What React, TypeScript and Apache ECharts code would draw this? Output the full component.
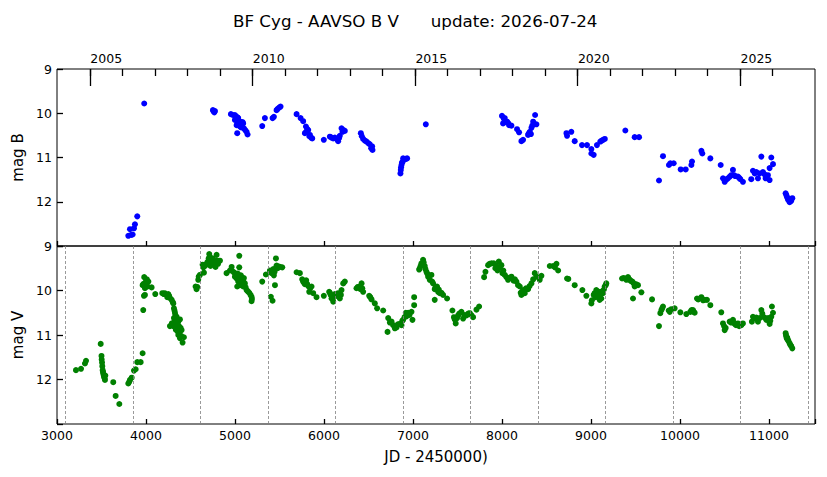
import React, { useEffect, useRef } from "react";
import * as echarts from "echarts";

// BF Cyg photometry (JD - 2450000, magnitude)
const magB: [number, number][] = [
  [3801, 12.77], [3820, 12.62], [3834, 12.75], [3850, 12.74], [3865, 12.6], [3876, 12.51], [3902, 12.33],
  [3980, 9.78],
  [4752, 9.93], [4760, 9.96], [4768, 9.98], [4775, 9.95],
  [4954, 10.02], [4975, 10.04], [4999, 10.04], [5010, 10.07], [5018, 10.08], [5030, 10.1], [5036, 10.11],
  [4999, 10.15], [5012, 10.13], [5055, 10.19], [5045, 10.17], [5018, 10.27], [5030, 10.22], [5060, 10.24],
  [5074, 10.27], [5092, 10.23], [5085, 10.2], [5100, 10.34], [5070, 10.32], [5055, 10.3], [5115, 10.38],
  [5130, 10.42], [5141, 10.48], [5025, 10.45], [5040, 10.2],
  [5306, 10.29],
  [5336, 10.11], [5422, 10.11], [5437, 10.08],
  [5467, 9.93], [5480, 9.9], [5497, 9.87], [5512, 9.85],
  [5692, 10.02], [5737, 10.11], [5766, 10.18], [5797, 10.3], [5810, 10.35], [5823, 10.38], [5785, 10.45],
  [5800, 10.42], [5835, 10.52], [5842, 10.49], [5855, 10.55], [5868, 10.57],
  [5998, 10.6],
  [6066, 10.53], [6085, 10.55], [6103, 10.57], [6122, 10.55], [6141, 10.58], [6159, 10.63], [6170, 10.56],
  [6178, 10.51], [6197, 10.34], [6208, 10.42], [6220, 10.38], [6234, 10.4],
  [6414, 10.45], [6425, 10.52], [6440, 10.58], [6460, 10.62], [6478, 10.64], [6500, 10.68], [6515, 10.7],
  [6530, 10.79], [6541, 10.75], [6545, 10.83],
  [6859, 11.36], [6863, 11.28], [6866, 11.22], [6871, 11.17], [6876, 11.12], [6882, 11.1], [6889, 11.02],
  [6900, 11.05], [6908, 11.04], [6920, 11.03], [6934, 11.02],
  [7144, 10.25],
  [8000, 10.06], [8012, 10.23], [8020, 10.12], [8031, 10.11], [8045, 10.2], [8057, 10.19], [8070, 10.22],
  [8080, 10.27], [8106, 10.28], [8169, 10.36], [8192, 10.43], [8218, 10.63], [8237, 10.6], [8293, 10.49],
  [8300, 10.46], [8312, 10.42], [8325, 10.47], [8331, 10.33], [8340, 10.28], [8350, 10.19], [8372, 10.04],
  [8387, 10.25],
  [8724, 10.45], [8731, 10.51], [8779, 10.42], [8817, 10.63], [8899, 10.72], [8955, 10.72], [9004, 10.81],
  [9004, 10.91], [9030, 10.94], [9067, 10.72], [9105, 10.64], [9120, 10.62], [9135, 10.6], [9155, 10.58],
  [9386, 10.39], [9491, 10.54], [9540, 10.54],
  [9764, 11.52], [9809, 10.97], [9876, 11.17], [9891, 11.13], [9929, 11.13], [10008, 11.27], [10064, 11.27],
  [10128, 11.17], [10135, 11.09],
  [10240, 10.85], [10251, 10.91], [10341, 11.02],
  [10457, 11.17], [10483, 11.47], [10502, 11.55], [10520, 11.5], [10539, 11.47], [10560, 11.43], [10577, 11.4],
  [10595, 11.28], [10606, 11.4], [10620, 11.42], [10651, 11.43], [10665, 11.46], [10678, 11.49], [10707, 11.55],
  [10801, 11.49], [10820, 11.3], [10840, 11.36], [10858, 11.33], [10876, 11.47], [10895, 11.36], [10914, 10.98],
  [10932, 11.33], [10950, 11.38], [10962, 11.47], [10988, 11.4], [11007, 11.24], [11007, 11.51], [11026, 11.0],
  [11045, 11.15],
  [11187, 11.81], [11195, 11.85], [11202, 11.89], [11213, 11.95], [11224, 11.94], [11232, 12.01], [11240, 11.97],
  [11250, 11.98], [11262, 11.92],
];

const magV: [number, number][] = [
  [3213, 11.79], [3270, 11.76], [3314, 11.64], [3326, 11.58],
  [3491, 11.2], [3500, 11.47], [3502, 11.55], [3506, 11.62], [3509, 11.7], [3513, 11.79], [3517, 11.83],
  [3520, 11.86], [3524, 11.9], [3528, 11.94], [3535, 11.97], [3539, 12.01], [3543, 11.91],
  [3632, 12.06], [3659, 12.37], [3700, 12.55],
  [3801, 12.09], [3812, 12.05], [3820, 12.01], [3839, 11.96], [3865, 11.8], [3884, 11.77], [3902, 11.61],
  [3940, 11.61], [3962, 11.41],
  [3969, 10.44], [3977, 10.12], [3988, 10.1], [3962, 9.88], [3972, 9.85], [3980, 9.7], [3999, 9.8],
  [3988, 9.95], [3995, 9.9], [4005, 9.84], [4018, 9.91], [4027, 9.8], [4063, 9.93], [4010, 9.75],
  [4104, 10.08], [4183, 10.06], [4200, 10.08], [4210, 10.06], [4239, 10.15], [4250, 10.08], [4260, 10.12],
  [4275, 10.18], [4288, 10.21], [4300, 10.26], [4307, 10.29], [4314, 10.4], [4320, 10.45], [4325, 10.5],
  [4314, 10.62], [4330, 10.55], [4344, 10.59], [4269, 10.8], [4290, 10.74], [4307, 10.8], [4320, 10.7],
  [4333, 10.73], [4340, 10.64], [4350, 10.75], [4363, 10.7], [4370, 10.8], [4381, 10.65], [4389, 10.84],
  [4400, 10.89], [4363, 11.0], [4370, 10.98], [4381, 11.07], [4395, 11.02], [4411, 11.17], [4426, 11.05],
  [4344, 10.85], [4325, 10.67], [4355, 10.92], [4335, 10.88],
  [4557, 9.91], [4568, 9.97], [4575, 9.92], [4587, 9.76], [4592, 9.69], [4606, 9.65], [4651, 9.6],
  [4662, 9.45], [4636, 9.42], [4645, 9.48], [4681, 9.4], [4690, 9.36], [4704, 9.28], [4711, 9.18],
  [4720, 9.25], [4737, 9.37], [4745, 9.3], [4752, 9.28], [4760, 9.38], [4775, 9.43], [4781, 9.47],
  [4793, 9.2], [4800, 9.33], [4810, 9.4], [4831, 9.33], [4700, 9.4], [4725, 9.45],
  [4905, 9.61], [4943, 9.55], [4962, 9.47], [4981, 9.58], [4999, 9.61], [4999, 9.69], [5010, 9.65],
  [5018, 9.73], [5025, 9.91], [5030, 9.62], [5036, 9.8], [5040, 9.7], [5048, 9.22], [5048, 9.48],
  [5055, 9.88], [5060, 9.75], [5066, 9.66], [5074, 9.7], [5080, 9.82], [5092, 9.78], [5092, 9.91],
  [5100, 9.72], [5111, 9.84], [5120, 9.93], [5130, 9.99], [5145, 10.02], [5160, 10.05], [5175, 10.1],
  [5186, 10.14], [5186, 10.24], [5190, 10.19],
  [5306, 9.8], [5347, 9.64], [5392, 9.55], [5403, 10.14], [5422, 10.23], [5411, 9.61], [5430, 9.52],
  [5437, 9.66], [5449, 9.88], [5445, 9.58], [5460, 9.28], [5467, 9.44], [5480, 9.5], [5490, 9.46],
  [5505, 9.47], [5531, 9.48],
  [5692, 9.59], [5729, 9.61], [5755, 9.75], [5765, 9.8], [5774, 9.82], [5785, 9.86], [5800, 9.77],
  [5810, 9.85], [5823, 9.9], [5834, 10.03], [5845, 9.95], [5860, 9.91], [5879, 10.06], [5916, 10.15],
  [5998, 10.12], [6058, 10.03], [6066, 10.05], [6075, 10.1], [6085, 10.18], [6095, 10.12], [6103, 10.25],
  [6110, 10.15], [6122, 10.08], [6140, 10.12], [6159, 10.06], [6178, 10.18], [6190, 10.1], [6197, 9.99],
  [6216, 9.84], [6234, 9.8],
  [6365, 9.95], [6380, 9.92], [6403, 9.91], [6410, 9.97], [6422, 9.84], [6430, 9.95], [6440, 10.03],
  [6508, 10.12], [6520, 10.15], [6534, 10.2], [6571, 10.29], [6597, 10.4],
  [6665, 10.45], [6714, 10.93], [6721, 10.62], [6740, 10.72], [6759, 10.7], [6777, 10.78], [6796, 10.85],
  [6815, 10.83], [6830, 10.76], [6852, 10.75], [6871, 10.78], [6880, 10.68], [6889, 10.66], [6905, 10.6],
  [6919, 10.5], [6927, 10.58], [6946, 10.5], [6960, 10.55], [6983, 10.48], [6994, 10.66], [7013, 10.33],
  [7013, 10.15],
  [7069, 9.53], [7076, 9.5], [7085, 9.45], [7095, 9.39], [7113, 9.31], [7120, 9.37], [7132, 9.45],
  [7140, 9.52], [7151, 9.58], [7160, 9.62], [7170, 9.69], [7188, 9.76], [7207, 9.65], [7215, 9.8],
  [7226, 9.84], [7244, 9.97], [7244, 10.21], [7255, 9.92], [7270, 9.91], [7282, 10.03], [7290, 9.98],
  [7301, 10.06], [7320, 10.05], [7338, 10.1], [7383, 10.18],
  [7443, 10.45], [7460, 10.6], [7469, 10.65], [7480, 10.74], [7495, 10.62], [7507, 10.56], [7520, 10.52],
  [7544, 10.48], [7563, 10.63], [7580, 10.55], [7601, 10.56], [7620, 10.52], [7638, 10.51], [7655, 10.55],
  [7675, 10.6], [7713, 10.43], [7743, 10.36],
  [7799, 9.7], [7814, 9.58], [7844, 9.43], [7860, 9.4], [7882, 9.39], [7908, 9.39], [7925, 9.5],
  [7938, 9.45], [7950, 9.55], [7964, 9.35], [7975, 9.49], [7993, 9.43], [8005, 9.61], [8015, 9.55],
  [8031, 9.65], [8050, 9.7], [8068, 9.76], [8085, 9.72], [8106, 9.69], [8130, 9.78], [8145, 9.75],
  [8162, 9.8], [8180, 9.88], [8200, 9.91], [8210, 10.05], [8218, 10.1], [8225, 10.03], [8237, 9.99],
  [8256, 10.06], [8270, 9.95], [8293, 9.97], [8310, 9.9], [8331, 9.84], [8350, 9.75], [8368, 9.61],
  [8387, 9.69], [8424, 9.76], [8443, 9.67],
  [8537, 9.45], [8574, 9.45], [8595, 9.48], [8612, 9.4], [8631, 9.55], [8731, 9.73], [8745, 9.74],
  [8817, 9.88], [8903, 9.99], [8948, 10.12], [9004, 10.29], [9010, 10.22], [9030, 10.1], [9041, 10.06],
  [9050, 10.15], [9060, 9.99], [9070, 10.14], [9080, 10.08], [9090, 10.03], [9097, 10.21], [9105, 10.1],
  [9116, 10.18], [9125, 10.02], [9135, 10.06], [9145, 9.98], [9154, 9.91], [9165, 9.88], [9172, 9.84],
  [9349, 9.73], [9365, 9.72], [9379, 9.73], [9398, 9.76], [9410, 9.72], [9416, 9.7], [9425, 9.74],
  [9435, 9.76], [9450, 9.79], [9465, 9.8], [9472, 10.18], [9480, 9.84], [9491, 9.91], [9510, 9.86],
  [9528, 9.88], [9566, 10.04],
  [9686, 10.2], [9764, 10.8], [9779, 10.51], [9791, 10.44], [9800, 10.4], [9809, 10.36], [9873, 10.45],
  [9885, 10.48], [9903, 10.42], [9940, 10.4], [10004, 10.49], [10071, 10.53], [10116, 10.48], [10130, 10.44],
  [10146, 10.44], [10155, 10.48], [10165, 10.5],
  [10191, 10.18], [10205, 10.2], [10240, 10.15], [10260, 10.22], [10277, 10.21], [10303, 10.21], [10341, 10.33],
  [10464, 10.49], [10483, 10.74], [10495, 10.8], [10502, 10.89], [10513, 10.84], [10558, 10.7], [10575, 10.72],
  [10595, 10.66], [10605, 10.72], [10614, 10.75], [10630, 10.78], [10651, 10.74], [10665, 10.8], [10689, 10.78],
  [10707, 10.74],
  [10808, 10.7], [10820, 10.59], [10840, 10.62], [10858, 10.61], [10876, 10.7], [10895, 10.62], [10914, 10.44],
  [10925, 10.52], [10951, 10.61], [10970, 10.66], [10990, 10.62], [11007, 10.75], [11015, 10.68], [11026, 10.59],
  [11033, 10.36], [11045, 10.5],
  [11187, 10.96], [11191, 11.0], [11195, 11.04], [11200, 11.08], [11205, 11.06], [11213, 11.11], [11220, 11.14],
  [11232, 11.19], [11240, 11.22], [11250, 11.25], [11262, 11.3],
];

// Orbital minima (JD - 2450000), drawn as dashed guides in the V panel
const minimaJd: number[] = [3098, 3856, 4614, 5373, 6131, 6890, 7648, 8406, 9165, 9923, 10682, 11440];

// Calendar years marked on the top axis
const tickYears: number[] = [
  2005, 2006, 2007, 2008, 2009, 2010, 2011, 2012, 2013, 2014, 2015, 2016,
  2017, 2018, 2019, 2020, 2021, 2022, 2023, 2024, 2025, 2026,
];
const labelYears: number[] = [2005, 2010, 2015, 2020, 2025];

const X_MIN = 3000;
const X_MAX = 11517;
const FONT = "'DejaVu Sans', sans-serif";

// JD - 2450000 of 1 January of a Gregorian year
function jdJan1(year: number): number {
  const y = year - 1;
  const a = Math.floor(y / 100);
  const b = 2 - a + Math.floor(a / 4);
  const jd = Math.floor(365.25 * (y + 4716)) + Math.floor(30.6001 * 14) + 1 + b - 1524.5;
  return jd - 2450000;
}

function yearOf(jd: number): number {
  return Math.floor(2000 + (jd + 2450000 - 2451544.5) / 365.25);
}

export default function App() {
  const ref = useRef<HTMLDivElement>(null);

  useEffect(() => {
    document.body.style.margin = "0";
    if (!ref.current) return;
    const chart = echarts.init(ref.current, undefined, { renderer: "svg" });

    const tickStyle = { color: "#000", width: 1.3 };
    const labelStyle = { color: "#000", fontSize: 12.5, fontFamily: FONT };
    const hideMag = (v: number) => (v === 13 ? "" : String(v));

    chart.setOption({
      animation: false,
      backgroundColor: "#fff",
      textStyle: { fontFamily: FONT },
      title: {
        text: "BF Cyg - AAVSO B V\u00a0\u00a0\u00a0\u00a0\u00a0\u00a0update: 2026-07-24",
        left: 228,
        top: 7,
        textStyle: { fontSize: 16.7, fontWeight: "normal", color: "#000", fontFamily: FONT },
      },
      grid: [
        { left: 57, right: 12, top: 69, height: 177, show: true, borderColor: "#000", borderWidth: 1 },
        { left: 57, right: 12, top: 246, height: 178, show: true, borderColor: "#000", borderWidth: 1 },
      ],
      xAxis: [
        {
          gridIndex: 0, type: "value", min: X_MIN, max: X_MAX, interval: 1000, position: "bottom",
          axisLine: { show: false }, splitLine: { show: false },
          axisTick: { inside: true, length: 5, lineStyle: tickStyle },
          axisLabel: { show: false },
        },
        {
          gridIndex: 0, type: "value", min: X_MIN, max: X_MAX, position: "top",
          axisLine: { show: false }, splitLine: { show: false },
          axisTick: { inside: true, length: 7, lineStyle: tickStyle, customValues: tickYears.map(jdJan1) },
          axisLabel: {
            ...labelStyle, margin: 4,
            customValues: labelYears.map((y) => jdJan1(y) + 182),
            formatter: (v: number) => String(yearOf(v)),
          },
        },
        {
          gridIndex: 0, type: "value", min: X_MIN, max: X_MAX, position: "top",
          axisLine: { show: false }, splitLine: { show: false },
          axisTick: { inside: true, length: 17, lineStyle: tickStyle, customValues: labelYears.map(jdJan1) },
          axisLabel: { show: false },
        },
        {
          gridIndex: 1, type: "value", min: X_MIN, max: X_MAX, interval: 1000, position: "bottom",
          axisLine: { show: false }, splitLine: { show: false },
          axisTick: { inside: true, length: 5, lineStyle: tickStyle },
          axisLabel: {
            ...labelStyle, margin: 5,
            formatter: (v: number) => (v % 1000 === 0 ? String(v) : ""),
          },
          name: "JD - 2450000)",
          nameLocation: "middle",
          nameGap: 25,
          nameTextStyle: { color: "#000", fontSize: 15, fontFamily: FONT },
        },
      ],
      yAxis: [
        {
          gridIndex: 0, type: "value", inverse: true, min: 9, max: 13, interval: 1,
          axisLine: { show: false }, splitLine: { show: false },
          axisTick: { inside: true, length: 6, lineStyle: tickStyle },
          axisLabel: { ...labelStyle, margin: 5, formatter: hideMag },
          name: "mag B", nameLocation: "middle", nameGap: 32,
          nameTextStyle: { color: "#000", fontSize: 15, fontFamily: FONT },
        },
        {
          gridIndex: 1, type: "value", inverse: true, min: 9, max: 13, interval: 1,
          axisLine: { show: false }, splitLine: { show: false },
          axisTick: { inside: true, length: 6, lineStyle: tickStyle },
          axisLabel: { ...labelStyle, margin: 5, formatter: hideMag },
          name: "mag V", nameLocation: "middle", nameGap: 32,
          nameTextStyle: { color: "#000", fontSize: 15, fontFamily: FONT },
        },
      ],
      series: [
        {
          name: "minima", type: "scatter", xAxisIndex: 3, yAxisIndex: 1, data: [], z: 1,
          markLine: {
            silent: true, symbol: ["none", "none"], label: { show: false },
            lineStyle: { color: "#808080", width: 0.8, type: [3, 2] },
            data: minimaJd.map((x) => ({ xAxis: x })),
          },
        },
        {
          name: "B", type: "scatter", xAxisIndex: 0, yAxisIndex: 0, data: magB, z: 3,
          symbol: "circle", symbolSize: 6, itemStyle: { color: "#0000ff", opacity: 1 },
        },
        {
          name: "V", type: "scatter", xAxisIndex: 3, yAxisIndex: 1, data: magV, z: 3,
          symbol: "circle", symbolSize: 6, itemStyle: { color: "#008000", opacity: 1 },
        },
      ],
    });

    return () => chart.dispose();
  }, []);

  return <div ref={ref} style={{ width: 827, height: 477 }} />;
}
